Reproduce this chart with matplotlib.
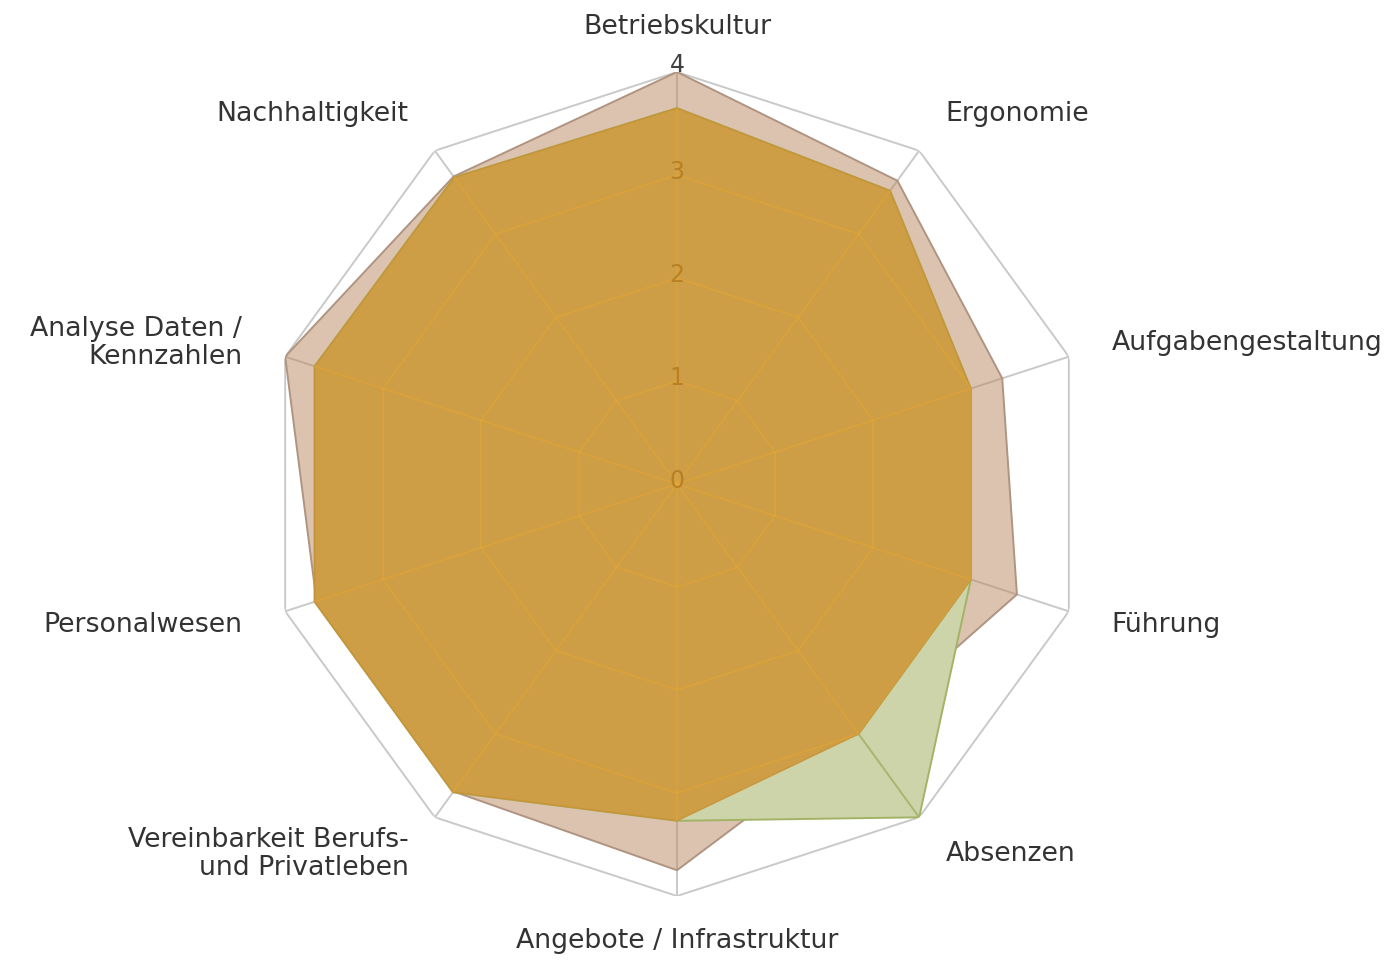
import numpy as np
import matplotlib
matplotlib.use("Agg")
import matplotlib.pyplot as plt
from matplotlib.transforms import ScaledTranslation

categories = ['Betriebskultur', 'Ergonomie', 'Aufgabengestaltung', 'Führung', 'Absenzen',
              'Angebote / Infrastruktur', 'Vereinbarkeit Berufs-\nund Privatleben',
              'Personalwesen', 'Analyse Daten /\nKennzahlen', 'Nachhaltigkeit']
series_tan = [4.0, 3.64, 3.32, 3.47, 3.0, 3.75, 3.69, 3.68, 4.0, 3.69]
series_green = [3.65, 3.52, 3.0, 3.0, 4.0, 3.27, 3.7, 3.7, 3.7, 3.68]
series_orange = [3.65, 3.52, 3.0, 3.0, 3.0, 3.27, 3.7, 3.7, 3.7, 3.68]
tick_values = [0, 1, 2, 3, 4]

W, H = 1395, 961
fig = plt.figure(figsize=(W / 100, H / 100), dpi=100)
cx, cy, R = 677, 484, 412
ax = fig.add_axes([(cx - R) / W, (H - cy - R) / H, 2 * R / W, 2 * R / H], projection='polar')
ax.set_theta_zero_location('N')
ax.set_theta_direction(-1)
ax.set_ylim(0, 4)
ax.set_xticks([])
ax.set_yticks([])
ax.grid(False)
ax.spines['polar'].set_visible(False)
ax.patch.set_alpha(0)

n = len(categories)
theta = np.arange(n) * 2 * np.pi / n
theta_c = np.append(theta, theta[0])

def closed(v):
    return np.append(v, v[0])

grid_color = '#c9c9c9'
grid_lines = []
for t in tick_values[1:]:
    ax.plot(theta_c, np.full(n + 1, t), color=grid_color, lw=1.4, zorder=1)
    grid_lines.append((theta_c, np.full(n + 1, t)))
for th in theta:
    ax.plot([th, th], [0, 4], color=grid_color, lw=1.4, zorder=1)
    grid_lines.append(([th, th], [0, 4]))

# tan series
ax.fill(theta_c, closed(series_tan), facecolor='#BB8961', alpha=0.5, zorder=2)
ax.plot(theta_c, closed(series_tan), color='#b09482', lw=1.4, zorder=2.1)

# green series
green_patch = ax.fill(theta_c, closed(series_green), facecolor='#cdd4aa', alpha=1.0, zorder=3)[0]
for xs, ys in grid_lines:
    ln, = ax.plot(xs, ys, color='#a7b66e', lw=1.4, zorder=3.05)
    ln.set_clip_path(green_patch)
ax.plot(theta_c, closed(series_green), color='#a3b366', lw=1.4, zorder=3.1)

# orange series
orange_patch = ax.fill(theta_c, closed(series_orange), facecolor='#CD9738', alpha=0.88,
                       edgecolor='#c99235', lw=1.0, zorder=4)[0]
for xs, ys in grid_lines:
    ln, = ax.plot(xs, ys, color='#e8a83a', lw=1.4, alpha=0.55, zorder=4.5)
    ln.set_clip_path(orange_patch)

# value labels on the first axis
for t in tick_values:
    col = '#404040' if t == 4 else '#b88026'
    dy = 5 / 72 if t == 4 else 2 / 72
    ax.text(0, t, str(t), ha='center', va='center', fontsize=17, color=col,
            zorder=5, family='DejaVu Sans',
            transform=ax.transData + ScaledTranslation(0, dy, fig.dpi_scale_trans))

r_lab = 457 / 103
for th, lab in zip(theta, categories):
    s = np.sin(th)
    if abs(s) < 1e-6:
        ha = 'center'
    elif s > 0:
        ha = 'left'
    else:
        ha = 'right'
    ax.text(th, r_lab, lab, ha=ha, va='center', fontsize=19.3, color='#333333',
            family='DejaVu Sans', clip_on=False, linespacing=1.12)

fig.savefig('out.png', dpi=100, facecolor='white')
